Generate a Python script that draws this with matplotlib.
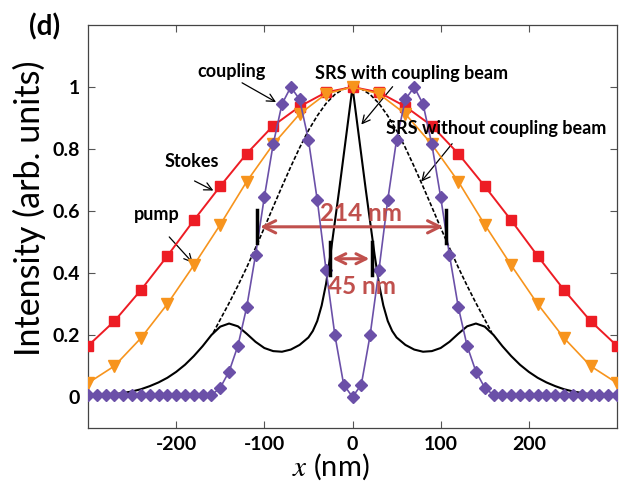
import matplotlib
matplotlib.use("Agg")
import matplotlib.pyplot as plt
import numpy as np

plt.rcParams['font.family'] = ['Lato', 'DejaVu Sans']
plt.rcParams['mathtext.fontset'] = 'stix'

# ---------------- data ----------------
x_coarse = [-300, -270, -240, -210, -180, -150, -120, -90, -60, -30, 0,
            30, 60, 90, 120, 150, 180, 210, 240, 270, 300]
stokes = [0.165, 0.245, 0.345, 0.455, 0.57, 0.68, 0.785, 0.875, 0.937, 0.983, 1.0,
          0.983, 0.937, 0.875, 0.785, 0.68, 0.57, 0.455, 0.345, 0.245, 0.165]
pump = [0.045, 0.10, 0.19, 0.30, 0.425, 0.556, 0.695, 0.815, 0.913, 0.978, 1.0,
        0.978, 0.913, 0.815, 0.695, 0.556, 0.425, 0.30, 0.19, 0.10, 0.045]

x_coup = list(range(-300, 301, 10))
coup_half = [0.0, 0.04, 0.2, 0.41, 0.636, 0.83, 0.96, 1.0, 0.945, 0.815, 0.645,
             0.458, 0.29, 0.165, 0.082, 0.03, 0.006, 0.005, 0.005, 0.005, 0.005,
             0.005, 0.005, 0.005, 0.005, 0.005, 0.005, 0.005, 0.005, 0.005, 0.005]
coupling = coup_half[::-1] + coup_half[1:]

x_srs_half = [0, 5, 10, 15, 20, 25, 30, 35, 40, 45, 50, 60, 70, 80, 90, 100, 110,
              120, 130, 140, 150, 160, 170, 180, 190, 200, 210, 220, 230, 240,
              250, 260, 270, 280, 290, 300]
srs_with_half = [1.0, 0.89, 0.78, 0.67, 0.565, 0.46, 0.365, 0.295, 0.245, 0.213,
                 0.192, 0.168, 0.153, 0.146, 0.148, 0.158, 0.178, 0.204, 0.228,
                 0.237, 0.227, 0.2, 0.164, 0.132, 0.104, 0.081, 0.062, 0.047,
                 0.035, 0.025, 0.018, 0.013, 0.009, 0.007, 0.005, 0.004]
x_srs = [-v for v in x_srs_half[::-1]] + x_srs_half[1:]
srs_with = srs_with_half[::-1] + srs_with_half[1:]

x_nocp_half = [0, 10, 20, 30, 40, 50, 60, 70, 80, 90, 100, 110, 120, 130, 140,
               150, 158]
srs_without_half = [1.0, 0.994, 0.976, 0.947, 0.907, 0.860, 0.804, 0.743, 0.679,
                    0.613, 0.546, 0.481, 0.418, 0.359, 0.303, 0.25, 0.207]
x_nocp = [-v for v in x_nocp_half[::-1]] + x_nocp_half[1:]
srs_without = srs_without_half[::-1] + srs_without_half[1:]

xticks = [-200, -100, 0, 100, 200]
yticks = [0, 0.2, 0.4, 0.6, 0.8, 1.0]
yticklabels = ['0', '0.2', '0.4', '0.6', '0.8', '1']

# ---------------- figure ----------------
fig = plt.figure(figsize=(6.26, 4.83), dpi=100)
ax = fig.add_axes([0.1406, 0.1139, 0.845, 0.8343])

red = '#ED1C24'
orange = '#F7941D'
purple = '#6B50A8'
mark = '#C0504D'

ax.plot(x_nocp, srs_without, color='black', lw=1.2, ls=(0, (2.5, 1.2)), zorder=2)
ax.plot(x_srs, srs_with, color='black', lw=1.5, zorder=3)
ax.plot(x_coarse, stokes, color=red, lw=1.4, marker='s', ms=7.5, zorder=4)
ax.plot(x_coarse, pump, color=orange, lw=1.2, marker='v', ms=9, zorder=4)
ax.plot(x_coup, coupling, color=purple, lw=1.2, marker='D', ms=6.5, zorder=5)

ax.set_xlim(-300, 300)
ax.set_ylim(-0.1, 1.2)
ax.set_xticks(xticks)
ax.set_xticklabels([str(v) for v in xticks])
ax.set_yticks(yticks)
ax.set_yticklabels(yticklabels)
ax.tick_params(direction='in', length=5, width=0.8, top=True, right=True,
               labelsize=14, pad=6, color='#555555')
for lab in ax.get_xticklabels() + ax.get_yticklabels():
    lab.set_fontweight('bold')
for sp in ax.spines.values():
    sp.set_color('#444444')
    sp.set_linewidth(0.9)

# width markers
ax.annotate('', xy=(-108, 0.549), xytext=(106, 0.549),
            arrowprops=dict(arrowstyle='<->', color=mark, lw=2.2, mutation_scale=22))
ax.annotate('', xy=(-26, 0.446), xytext=(22.3, 0.446),
            arrowprops=dict(arrowstyle='<->', color=mark, lw=2.2, mutation_scale=18))
ax.plot([-108, -108], [0.498, 0.604], color='black', lw=2.5, zorder=6)
ax.plot([106, 106], [0.498, 0.604], color='black', lw=2.5, zorder=6)
ax.plot([-26, -26], [0.394, 0.50], color='black', lw=2.5, zorder=6)
ax.plot([22.3, 22.3], [0.394, 0.50], color='black', lw=2.5, zorder=6)
ax.text(10, 0.592, '214 nm', color=mark, fontsize=17.5, fontweight='bold',
        ha='center', va='center', zorder=7)
ax.text(11, 0.355, '45 nm', color=mark, fontsize=17.5, fontweight='bold',
        ha='center', va='center', zorder=7)

# labels with arrows
fs = 13
aprops = dict(arrowstyle='->', color='black', lw=0.9, mutation_scale=14)
ax.text(-137, 1.05, 'coupling', fontsize=fs, fontweight='bold', ha='center', va='center')
ax.annotate('', xy=(-84, 0.947), xytext=(-128, 1.018), arrowprops=aprops)
ax.text(-182, 0.76, 'Stokes', fontsize=fs, fontweight='bold', ha='center', va='center')
ax.annotate('', xy=(-155, 0.662), xytext=(-182, 0.701), arrowprops=aprops)
ax.text(-222, 0.588, 'pump', fontsize=fs, fontweight='bold', ha='center', va='center')
ax.annotate('', xy=(-179, 0.426), xytext=(-210, 0.523), arrowprops=aprops)
ax.text(67, 1.044, 'SRS with coupling beam', fontsize=fs, fontweight='bold',
        ha='center', va='center')
ax.annotate('', xy=(8, 0.872), xytext=(47.5, 1.008), arrowprops=aprops)
ax.text(163, 0.866, 'SRS without coupling beam', fontsize=fs, fontweight='bold',
        ha='center', va='center', zorder=8)
ax.annotate('', xy=(76, 0.688), xytext=(115, 0.824), arrowprops=aprops)

fig.text(45 / 626, 1 - 27 / 483, '(d)', fontsize=20, fontweight='bold',
         ha='center', va='center')
fig.text(29 / 626, 1 - 208 / 483, 'Intensity (arb. units)', fontsize=24.5,
         rotation=90, ha='center', va='center')
fig.text(331 / 626, 1 - 467 / 483, r'$x$ (nm)', fontsize=21, ha='center', va='center')

fig.savefig('out.png', dpi=100)
